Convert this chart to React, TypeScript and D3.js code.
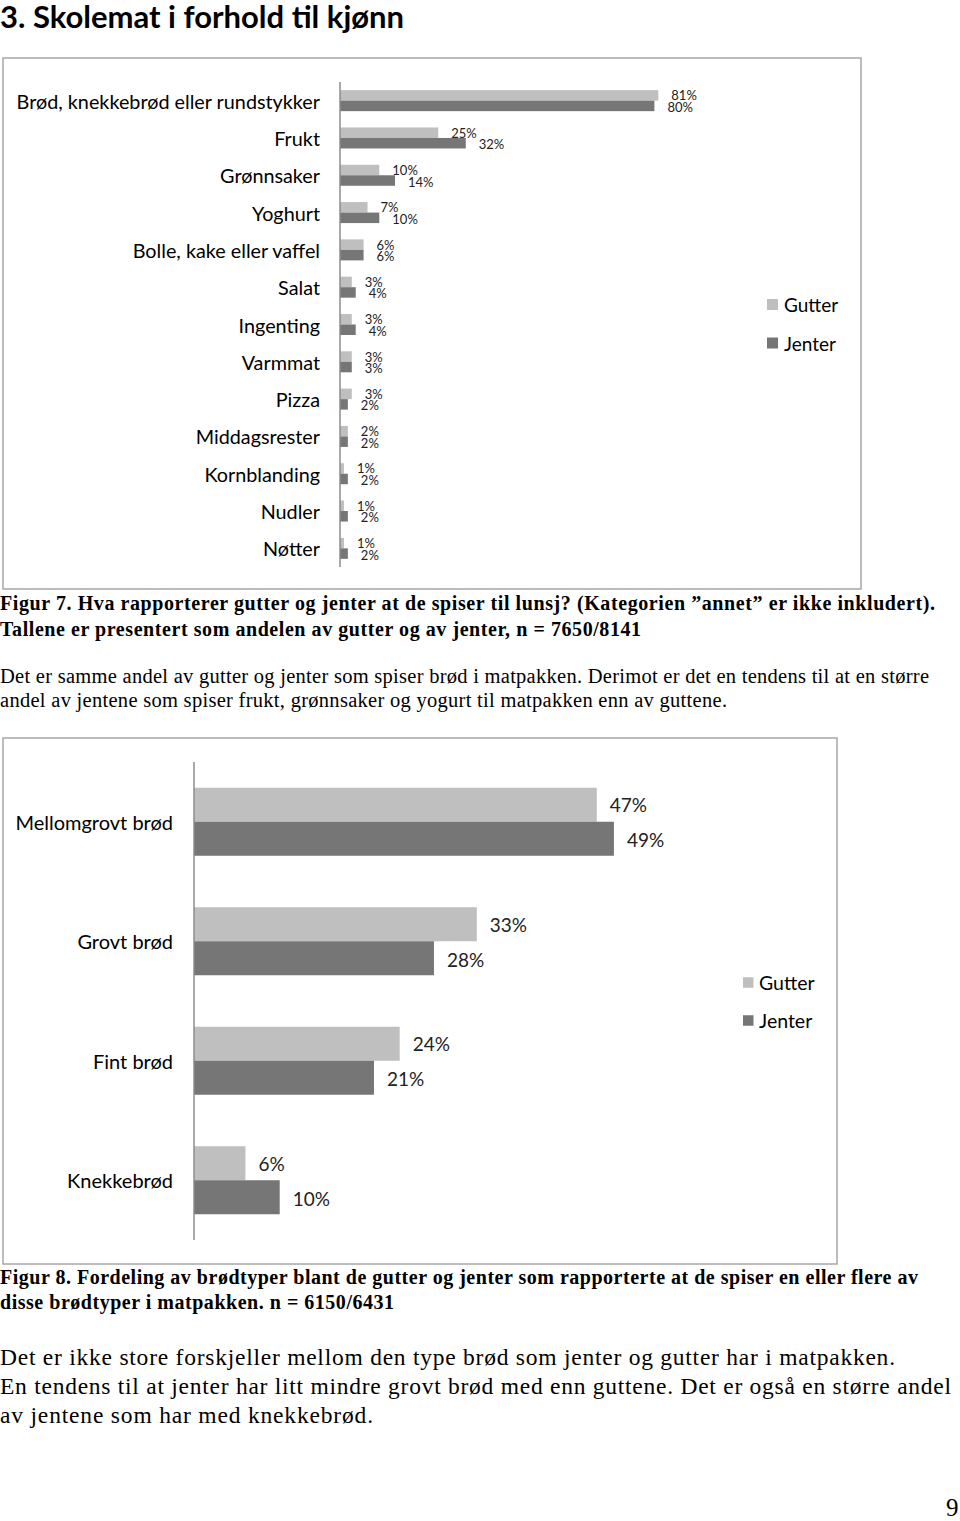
import React from "react";
import * as d3 from "d3";

const cats1 = [
  "Brød, knekkebrød eller rundstykker",
  "Frukt",
  "Grønnsaker",
  "Yoghurt",
  "Bolle, kake eller vaffel",
  "Salat",
  "Ingenting",
  "Varmmat",
  "Pizza",
  "Middagsrester",
  "Kornblanding",
  "Nudler",
  "Nøtter",
];
const gutter1 = [81, 25, 10, 7, 6, 3, 3, 3, 3, 2, 1, 1, 1];
const jenter1 = [80, 32, 14, 10, 6, 4, 4, 3, 2, 2, 2, 2, 2];

const cats2 = ["Mellomgrovt brød", "Grovt brød", "Fint brød", "Knekkebrød"];
const gutter2 = [47, 33, 24, 6];
const jenter2 = [49, 28, 21, 10];

const seriesNames = ["Gutter", "Jenter"];
const seriesColors = ["#bfbfbf", "#767676"];

const SANS = "Lato, 'Open Sans', sans-serif";
const SERIF = "'Liberation Serif', 'Times New Roman', serif";

type ChartProps = {
  cats: string[];
  a: number[];
  b: number[];
  frame: { x: number; y: number; w: number; h: number };
  axisX: number;
  yRange: [number, number];
  pxPerPct: number;
  barH: number;
  catX: number;
  catSize: number;
  valSize: number;
  valDy: number[];
  legend: { sx: number; tx: number; ys: number[]; size: number; sq: number };
};

function Chart(p: ChartProps) {
  const x = d3.scaleLinear().domain([0, 100]).range([p.axisX, p.axisX + p.pxPerPct * 100]);
  const y = d3.scaleBand<string>().domain(p.cats).range(p.yRange);
  const series = [p.a, p.b];
  return (
    <g>
      <rect
        x={p.frame.x}
        y={p.frame.y}
        width={p.frame.w}
        height={p.frame.h}
        fill="#fff"
        stroke="#a6a6a6"
        strokeWidth={1.5}
      />
      {p.cats.map((c, i) => {
        const cy = (y(c) as number) + y.bandwidth() / 2;
        return (
          <g key={c}>
            <text
              x={p.catX}
              y={cy}
              textAnchor="end"
              dominantBaseline="central"
              fontFamily={SANS}
              fontSize={p.catSize}
              fill="#000"
            >
              {c}
            </text>
            {series.map((s, k) => {
              const by = cy - p.barH + k * p.barH;
              return (
                <g key={k}>
                  <rect
                    x={x(0)}
                    y={by}
                    width={x(s[i]) - x(0)}
                    height={p.barH}
                    fill={seriesColors[k]}
                  />
                  <text
                    x={x(s[i]) + 13}
                    y={by + p.barH / 2 + p.valDy[k]}
                    dominantBaseline="central"
                    fontFamily={SANS}
                    fontSize={p.valSize}
                    fill="#222"
                  >
                    {s[i] + "%"}
                  </text>
                </g>
              );
            })}
          </g>
        );
      })}
      <line
        x1={p.axisX}
        x2={p.axisX}
        y1={p.yRange[0]}
        y2={p.yRange[1]}
        stroke="#8c8c8c"
        strokeWidth={1.5}
      />
      {seriesNames.map((n, k) => (
        <g key={n}>
          <rect
            x={p.legend.sx}
            y={p.legend.ys[k] - p.legend.sq / 2}
            width={p.legend.sq}
            height={p.legend.sq}
            fill={seriesColors[k]}
          />
          <text
            x={p.legend.tx}
            y={p.legend.ys[k]}
            dominantBaseline="central"
            fontFamily={SANS}
            fontSize={p.legend.size}
            fill="#000"
          >
            {n}
          </text>
        </g>
      ))}
    </g>
  );
}

type Line = { t: string; y: number; w: number; size: number; bold?: boolean };

const textLines: Line[] = [
  { t: "Figur 7. Hva rapporterer gutter og jenter at de spiser til lunsj? (Kategorien ”annet” er ikke inkludert).", y: 610, w: 935, size: 20, bold: true },
  { t: "Tallene er presentert som andelen av gutter og av jenter, n = 7650/8141", y: 636, w: 641, size: 20, bold: true },
  { t: "Det er samme andel av gutter og jenter som spiser brød i matpakken. Derimot er det en tendens til at en større", y: 683, w: 929, size: 20.5 },
  { t: "andel av jentene som spiser frukt, grønnsaker og yogurt til matpakken enn av guttene.", y: 707, w: 727, size: 20.5 },
  { t: "Figur 8. Fordeling av brødtyper blant de gutter og jenter som rapporterte at de spiser en eller flere av", y: 1284, w: 918, size: 20, bold: true },
  { t: "disse brødtyper i matpakken. n = 6150/6431", y: 1309, w: 394, size: 20, bold: true },
  { t: "Det er ikke store forskjeller mellom den type brød som jenter og gutter har i matpakken.", y: 1365, w: 895, size: 23.5 },
  { t: "En tendens til at jenter har litt mindre grovt brød med enn guttene. Det er også en større andel", y: 1394, w: 951, size: 23.5 },
  { t: "av jentene som har med knekkebrød.", y: 1423, w: 373, size: 23.5 },
];

export default function App() {
  return (
    <svg
      width={960}
      height={1521}
      viewBox="0 0 960 1521"
      style={{ position: "absolute", left: 0, top: 0, background: "#fff" }}
    >
      <rect x={0} y={0} width={960} height={1521} fill="#fff" />
      <text x={0} y={28} fontFamily={SANS} fontWeight={700} fontSize={31} fill="#000">
        3. Skolemat i forhold til kjønn
      </text>
      <Chart
        cats={cats1}
        a={gutter1}
        b={jenter1}
        frame={{ x: 3, y: 58, w: 858, h: 531 }}
        axisX={340}
        yRange={[82, 567]}
        pxPerPct={3.93}
        barH={10.5}
        catX={320}
        catSize={19.8}
        valSize={13}
        valDy={[0, 1]}
        legend={{ sx: 767, tx: 784, ys: [304.5, 343], size: 19, sq: 11 }}
      />
      <Chart
        cats={cats2}
        a={gutter2}
        b={jenter2}
        frame={{ x: 3, y: 738, w: 834, h: 526 }}
        axisX={194}
        yRange={[762, 1240]}
        pxPerPct={8.57}
        barH={34}
        catX={173}
        catSize={20}
        valSize={19}
        valDy={[0, 1]}
        legend={{ sx: 743, tx: 759, ys: [982.5, 1020.5], size: 19.5, sq: 10.5 }}
      />
      {textLines.map((l, i) => (
        <text
          key={i}
          x={0}
          y={l.y}
          fontFamily={SERIF}
          fontWeight={l.bold ? 700 : 400}
          fontSize={l.size}
          textLength={l.w}
          lengthAdjust="spacing"
          fill="#000"
        >
          {l.t}
        </text>
      ))}
      <text x={946} y={1516} fontFamily={SERIF} fontSize={25} fill="#000">
        9
      </text>
    </svg>
  );
}
